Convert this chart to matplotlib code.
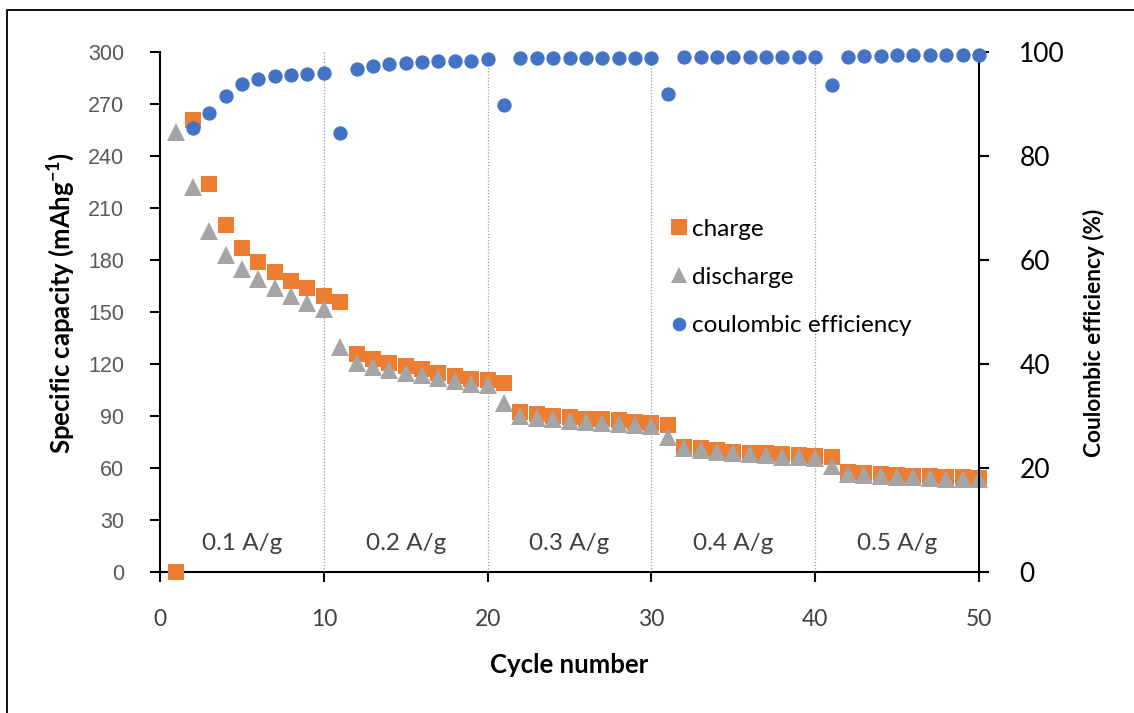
import numpy as np
import matplotlib
matplotlib.use("Agg")
import matplotlib.pyplot as plt
from matplotlib.patches import Rectangle

# ---------------------------------------------------------------------------
# data: rate capability test, 10 cycles per current density
# ---------------------------------------------------------------------------
cycles = list(range(1, 51))

charge = [0, 261, 224, 200, 187, 179, 173, 168, 164, 159,
          156, 126, 123, 120.5, 118.6, 117, 115, 113, 111.6, 110.6,
          109, 92.5, 91, 90, 89.3, 88.5, 88, 87.7, 86.7, 86,
          84.8, 72.3, 71.4, 70.4, 69.4, 68.8, 68.5, 67.9, 67.5, 66.9,
          66.2, 57.7, 56.9, 56.3, 56, 55.6, 55.2, 55, 54.6, 54.4]

discharge = [254, 222, 197, 183, 175, 169, 164, 159, 155, 152,
             130, 120.8, 118.5, 116.5, 114.6, 113.5, 112, 110, 108.5, 107.9,
             97.5, 90.2, 89, 88, 87.3, 86.7, 86.2, 85.6, 84.8, 84,
             78, 71.4, 70.4, 69.4, 68.5, 67.9, 67.3, 66.5, 66.2, 65.6,
             61.2, 56.5, 56, 55.4, 55, 54.6, 54.2, 53.8, 53.5, 53.5]

efficiency = [np.nan, 85.3, 88.2, 91.6, 93.8, 94.8, 95.3, 95.6, 95.8, 96.0,
              84.5, 96.8, 97.4, 97.7, 97.9, 98.1, 98.3, 98.3, 98.3, 98.6,
              89.8, 98.9, 98.9, 98.9, 98.9, 98.9, 98.9, 98.9, 98.9, 98.9,
              91.9, 99.1, 99.1, 99.1, 99.1, 99.1, 99.1, 99.1, 99.1, 99.1,
              93.7, 99.1, 99.3, 99.3, 99.4, 99.4, 99.4, 99.4, 99.5, 99.5]

rate_bounds = [10, 20, 30, 40]
rate_labels = ["0.1 A/g", "0.2 A/g", "0.3 A/g", "0.4 A/g", "0.5 A/g"]
rate_centers = [5, 15, 25, 35, 45]

cap_ticks = [0, 30, 60, 90, 120, 150, 180, 210, 240, 270, 300]
ce_ticks = [0, 20, 40, 60, 80, 100]
cycle_ticks = [0, 10, 20, 30, 40, 50]

ORANGE = "#ED7D31"
GREY = "#A5A5A5"
BLUE = "#4472C4"

W, H = 1134, 713
fig = plt.figure(figsize=(W / 100, H / 100), dpi=100)
fig.patches.append(Rectangle((7 / W, -0.1), 1.2, 1 - 10 / H + 0.1,
                             transform=fig.transFigure, fill=False,
                             edgecolor="black", linewidth=1.3))

ax = fig.add_axes([160 / W, (H - 572) / H, (979 - 160) / W, (572 - 52) / H])
ax2 = ax.twinx()

# current density separators
for xb in rate_bounds:
    ax.axvline(xb, color="#9a9a9a", linestyle=(0, (1, 1.5)), linewidth=0.9, zorder=1)

for xc, lab in zip(rate_centers, rate_labels):
    ax.text(xc, 16.5, lab, ha="center", va="center", fontsize=17.5,
            family="Lato", color="#404040")

h_ch, = ax.plot(cycles, charge, "s", color=ORANGE, markersize=12.2,
                markeredgewidth=0, clip_on=False, zorder=3, label="charge")
h_dis, = ax.plot(cycles, discharge, "^", color=GREY, markersize=12.5,
                 markeredgewidth=0, clip_on=False, zorder=4, label="discharge")
h_ce, = ax2.plot(cycles, efficiency, "o", color=BLUE, markersize=10.3,
                 markeredgewidth=0, clip_on=False, zorder=5,
                 label="coulombic efficiency")

ax.set_xlim(0, 50)
ax.set_ylim(0, 300)
ax2.set_ylim(0, 100)

ax.set_xticks(cycle_ticks)
ax.set_yticks(cap_ticks)
ax2.set_yticks(ce_ticks)

for a in (ax, ax2):
    a.spines["top"].set_visible(False)
    a.patch.set_visible(False)
ax.spines["right"].set_visible(False)
ax2.spines["left"].set_visible(False)
ax2.spines["bottom"].set_visible(False)
for sp in (ax.spines["left"], ax.spines["bottom"], ax2.spines["right"]):
    sp.set_linewidth(1.5)

ax.tick_params(axis="y", direction="out", length=7, width=1.5, pad=19,
               labelsize=15.5, labelcolor="#595959")
ax.tick_params(axis="x", direction="out", length=7, width=1.5, pad=20,
               labelsize=16.5, labelcolor="#404040")
ax2.tick_params(axis="y", direction="out", length=7, width=1.5, pad=22,
                labelsize=19, labelcolor="black")
for t in ax.get_yticklabels():
    t.set_family("Liberation Sans")
for t in ax.get_xticklabels() + ax2.get_yticklabels():
    t.set_family("Lato")

ax.set_ylabel("Specific capacity (mAhg$^{\\mathregular{-1}}$)", fontsize=18.5,
              fontweight="bold", family="Lato")
ax.yaxis.set_label_coords(-0.101, 0.517)
ax.set_xlabel("Cycle number", fontsize=18.5, fontweight="bold", family="Lato",
              labelpad=16)
ax2.set_ylabel("Coulombic efficiency (%)", fontsize=16.3, fontweight="bold",
               family="Lato")
ax2.yaxis.set_label_coords(1.127, 0.46)

ax2.set_zorder(ax.get_zorder() + 1)

ax2.legend(handles=[h_ch, h_dis, h_ce], loc="upper left",
           bbox_to_anchor=(657 / W, 1 - 209 / H), bbox_transform=fig.transFigure,
           frameon=False, prop={"family": "Lato", "size": 17.5},
           handletextpad=0.05, handlelength=1.0, labelspacing=1.12,
           borderaxespad=0, markerscale=0.95)

fig.savefig("out.png", dpi=100)
